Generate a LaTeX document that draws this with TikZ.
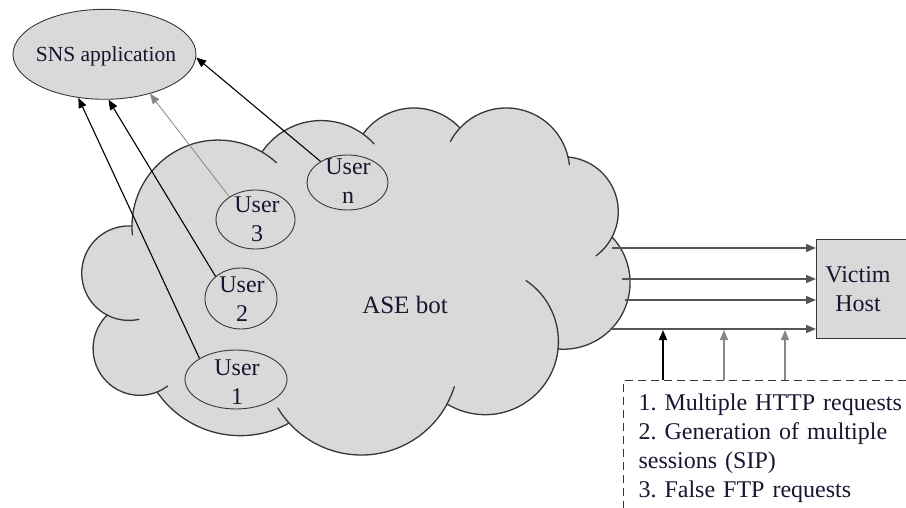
\documentclass[tikz,border=0pt]{standalone}
\usepackage{fontspec}
\setmainfont{Liberation Serif}
\usetikzlibrary{arrows.meta,shapes.geometric}
\frenchspacing

\definecolor{cloudgray}{RGB}{217,217,217}
\definecolor{edgegray}{RGB}{55,55,55}
\definecolor{inkblue}{RGB}{22,22,48}
\definecolor{wiregray}{RGB}{85,85,85}
\definecolor{lightwire}{RGB}{135,135,135}

% Circle through three points S, M, E (pixel coordinates, y downwards).
% Stores centre (cb<name>x, cb<name>y), radius cb<name>r and the
% clockwise arc angles cb<name>s -> cb<name>e.
\makeatletter
\newcommand\mkbump[7]{%
  \pgfmathsetmacro\cb@ax{#2/100}\pgfmathsetmacro\cb@ay{-#3/100}%
  \pgfmathsetmacro\cb@bx{#4/100}\pgfmathsetmacro\cb@by{-#5/100}%
  \pgfmathsetmacro\cb@cx{#6/100}\pgfmathsetmacro\cb@cy{-#7/100}%
  \pgfmathsetmacro\cb@A{(\cb@ax)*(\cb@ax)+(\cb@ay)*(\cb@ay)}%
  \pgfmathsetmacro\cb@B{(\cb@bx)*(\cb@bx)+(\cb@by)*(\cb@by)}%
  \pgfmathsetmacro\cb@C{(\cb@cx)*(\cb@cx)+(\cb@cy)*(\cb@cy)}%
  \pgfmathsetmacro\cb@D{2*((\cb@ax)*((\cb@by)-(\cb@cy))+(\cb@bx)*((\cb@cy)-(\cb@ay))+(\cb@cx)*((\cb@ay)-(\cb@by)))}%
  \pgfmathsetmacro\cb@X{((\cb@A)*((\cb@by)-(\cb@cy))+(\cb@B)*((\cb@cy)-(\cb@ay))+(\cb@C)*((\cb@ay)-(\cb@by)))/(\cb@D)}%
  \pgfmathsetmacro\cb@Y{((\cb@A)*((\cb@cx)-(\cb@bx))+(\cb@B)*((\cb@ax)-(\cb@cx))+(\cb@C)*((\cb@bx)-(\cb@ax)))/(\cb@D)}%
  \pgfmathsetmacro\cb@R{100*veclen((\cb@ax)-(\cb@X),(\cb@ay)-(\cb@Y))}%
  \pgfmathsetmacro\cb@S{atan2((\cb@ay)-(\cb@Y),(\cb@ax)-(\cb@X))}%
  \pgfmathsetmacro\cb@E{atan2((\cb@cy)-(\cb@Y),(\cb@cx)-(\cb@X))}%
  \pgfmathsetmacro\cb@E{(\cb@E)>(\cb@S) ? (\cb@E)-360 : (\cb@E)}%
  \pgfmathsetmacro\cb@Xp{100*(\cb@X)}%
  \pgfmathsetmacro\cb@Yp{100*(\cb@Y)}%
  \expandafter\xdef\csname cb#1x\endcsname{\cb@Xp}%
  \expandafter\xdef\csname cb#1y\endcsname{\cb@Yp}%
  \expandafter\xdef\csname cb#1r\endcsname{\cb@R}%
  \expandafter\xdef\csname cb#1s\endcsname{\cb@S}%
  \expandafter\xdef\csname cb#1e\endcsname{\cb@E}%
}
% Short inner stroke continuing a bump's circle past its end (e) or start (s).
\newcommand\cbtail[3]{%
  \edef\cb@x{\csname cb#1x\endcsname}%
  \edef\cb@y{\csname cb#1y\endcsname}%
  \edef\cb@r{\csname cb#1r\endcsname}%
  \edef\cb@a{\csname cb#1#2\endcsname}%
  \draw[cloudedge] (\cb@x,\cb@y) ++(\cb@a:\cb@r pt)
    arc[start angle=\cb@a, end angle={\cb@a+(#3)}, radius=\cb@r pt];}
\makeatother

\tikzset{
  cloudedge/.style={draw=edgegray, line width=1.3pt, line cap=round},
  bubble/.style={ellipse, draw=edgegray, line width=0.9pt, fill=cloudgray, inner sep=0pt},
  txt/.style={text=inkblue, font=\fontsize{24}{29}\selectfont, align=center, inner sep=0pt},
  tip/.style={-{Triangle[length=10pt,width=8pt]}},
  userwire/.style={tip, draw=black, line width=1.1pt},
  faintwire/.style={tip, draw=lightwire, line width=0.8pt},
  hwire/.style={tip, draw=wiregray, line width=1.3pt},
}

\begin{document}
\begin{tikzpicture}[x=1pt,y=1pt]
\useasboundingbox (0,0) rectangle (906,-508);
\clip (0,0) rectangle (906,-508);

% bumps of the cloud, clockwise from the lower-left junction
\mkbump{A}{107}{315}{82}{268}{132}{226}
\mkbump{C}{132}{226}{200}{142}{262}{152}
\mkbump{D}{262}{152}{313}{121}{363}{134}
\mkbump{E}{363}{134}{416}{108}{460}{128}
\mkbump{F}{460}{128}{507}{108}{568}{157}
\mkbump{G}{568}{157}{618}{207}{612}{237}
\mkbump{H}{612}{237}{630}{282}{558}{349}
\mkbump{I}{558}{349}{495}{414}{447}{404}
\mkbump{J}{447}{404}{362}{455}{289}{423}
\mkbump{K}{289}{423}{222}{434}{157}{392}
\mkbump{L}{157}{392}{93}{345}{107}{315}

\path[fill=cloudgray, cloudedge, line join=round]
  (107,-315)
  arc[start angle=\cbAs, end angle=\cbAe, radius=\cbAr pt]
  arc[start angle=\cbCs, end angle=\cbCe, radius=\cbCr pt]
  arc[start angle=\cbDs, end angle=\cbDe, radius=\cbDr pt]
  arc[start angle=\cbEs, end angle=\cbEe, radius=\cbEr pt]
  arc[start angle=\cbFs, end angle=\cbFe, radius=\cbFr pt]
  arc[start angle=\cbGs, end angle=\cbGe, radius=\cbGr pt]
  arc[start angle=\cbHs, end angle=\cbHe, radius=\cbHr pt]
  arc[start angle=\cbIs, end angle=\cbIe, radius=\cbIr pt]
  arc[start angle=\cbJs, end angle=\cbJe, radius=\cbJr pt]
  arc[start angle=\cbKs, end angle=\cbKe, radius=\cbKr pt]
  arc[start angle=\cbLs, end angle=\cbLe, radius=\cbLr pt]
  -- cycle;

% inner strokes at the junctions
\cbtail{A}{s}{40}
\cbtail{C}{s}{6}
\cbtail{C}{e}{-12}
\cbtail{D}{e}{-12}
\cbtail{F}{s}{15}
\cbtail{F}{e}{-7}
\cbtail{G}{e}{-26}
\cbtail{I}{s}{62}
\cbtail{J}{s}{11}
\cbtail{J}{e}{-11}
\cbtail{L}{s}{15}

% SNS application
\node[bubble, minimum width=183pt, minimum height=90pt] (sns) at (104.5,-54.3) {};
\node[text=inkblue, font=\fontsize{21.5}{24}\selectfont, inner sep=0pt, anchor=base] (snst) at (106,-62) {SNS application};

% users inside the bot cloud
\node[bubble, minimum width=81pt, minimum height=55pt] (un) at (347.5,-182.5) {};
\node[bubble, minimum width=79pt, minimum height=59pt] (u3) at (255.5,-219.5) {};
\node[bubble, minimum width=72pt, minimum height=61pt] (u2) at (241,-298.5) {};
\node[bubble, minimum width=102pt, minimum height=59pt] (u1) at (236,-379.5) {};
\node[txt] (unt) at (348,-181) {User\\n};
\node[txt] (u3t) at (257,-219.5) {User\\3};
\node[txt] (u2t) at (242,-299.5) {User\\2};
\node[txt] (u1t) at (237,-382.5) {User\\1};

\node[txt, font=\fontsize{25}{29}\selectfont, anchor=base] (ase) at (405,-313) {ASE bot};

% users reaching the SNS application
\draw[userwire] (u1.150) -- (sns.239);
\draw[userwire] (u2.139) -- (sns.275);
\draw[faintwire] (u3.139) -- (sns.319);
\draw[userwire] (un.142) -- (sns.358);

% victim host
\node[draw=edgegray, fill=cloudgray, line width=1pt, minimum width=94pt, minimum height=99pt,
      inner sep=0pt, anchor=north west] (vic) at (816,-239) {};
\node[txt] (vict) at (858,-289.5) {Victim\\Host};

% flood from the bot cloud to the victim
\coordinate (h1) at (612,-248);
\coordinate (h2) at (622,-279);
\coordinate (h3) at (625,-300);
\coordinate (h4) at (610,-329);
\draw[hwire] (h1) -- (h1 -| vic.west);
\draw[hwire] (h2) -- (h2 -| vic.west);
\draw[hwire] (h3) -- (h3 -| vic.west);
\draw[hwire] (h4) -- (h4 -| vic.west);

% attack types
\node[draw=edgegray, line width=1.1pt, dash pattern=on 8pt off 5pt, anchor=north west,
      text=inkblue, font=\fontsize{24}{29}\selectfont, align=left, text width=330pt,
      inner xsep=15pt, inner ysep=13pt] (req) at (623,-380)
  {1. Multiple HTTP requests\\2. Generation of multiple\\sessions (SIP)\\3. False FTP requests};

\coordinate (v1) at (663,-330);
\coordinate (v2) at (724,-330);
\coordinate (v3) at (785,-330);
\draw[tip, draw=black, line width=1.3pt] (v1 |- req.north) -- (v1);
\draw[tip, draw=lightwire, line width=1.3pt] (v2 |- req.north) -- (v2);
\draw[tip, draw=lightwire, line width=1.3pt] (v3 |- req.north) -- (v3);
\end{tikzpicture}
\end{document}
